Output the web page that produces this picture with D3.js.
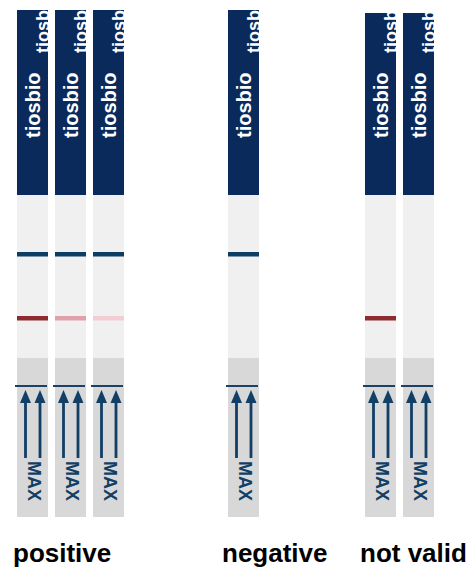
<!DOCTYPE html>
<html>
<head>
<meta charset="utf-8">
<script src="https://cdn.jsdelivr.net/npm/d3@7"></script>
<style>
  body { margin: 0; background: #fff; }
</style>
</head>
<body>
<div id="plot"></div>
<script>
  // test strip results
  const groups = ["positive", "negative", "not valid"];
  const stripGroup = ["positive", "positive", "positive", "negative", "not valid", "not valid"];
  const controlLine = [1, 1, 1, 1, 0, 0];
  const testLine = [1, 0.5, 0.2, 0, 1, 0];
  const brand = "tiosbio";
  const maxLabel = "MAX";

  const w = 470;
  const h = 569;
  const stripW = 31;
  const stripStep = 38;

  const svg = d3.select("div#plot")
      .append("svg")
      .attr("width", w)
      .attr("height", h);

  const groupX = d3.scaleOrdinal()
      .domain(groups)
      .range([17, 228, 365]);

  const groupTop = d3.scaleOrdinal()
      .domain(groups)
      .range([10, 10, 13]);

  const labelX = d3.scaleOrdinal()
      .domain(groups)
      .range([13, 222, 360]);

  const testColor = d3.scaleLinear()
      .domain([0.2, 0.5, 1])
      .range(["#f3cdd4", "#e0a2aa", "#8c2b30"]);

  // zones along the strip
  const y = {navyEnd: 195, control: 254, test: 318, grayStart: 358,
    maxLine: 386, bottom: 517};

  const strips = stripGroup.map((g, i) => ({
    group: g,
    idx: stripGroup.slice(0, i).filter(d => d === g).length,
    control: controlLine[i],
    test: testLine[i],
    id: i
  }));

  const defs = svg.append("defs");
  defs.selectAll("clipPath")
    .data(strips)
    .enter().append("clipPath")
      .attr("id", d => "clip" + d.id)
    .append("rect")
      .attr("x", 0)
      .attr("y", 0)
      .attr("width", stripW)
      .attr("height", d => y.navyEnd - groupTop(d.group));

  const strip = svg.selectAll("g.strip")
    .data(strips)
    .enter().append("g")
      .attr("class", "strip")
      .attr("transform", d => `translate(${groupX(d.group) + d.idx * stripStep}, 0)`);

  // gray bottom part
  strip.append("rect")
      .attr("x", 0)
      .attr("y", y.grayStart)
      .attr("width", stripW)
      .attr("height", y.bottom - y.grayStart)
      .attr("fill", "#d8d8d8");

  // light reading window
  strip.append("rect")
      .attr("x", 0)
      .attr("y", y.navyEnd)
      .attr("width", stripW)
      .attr("height", y.grayStart - y.navyEnd)
      .attr("fill", "#f0f0f0");

  // navy handle
  const head = strip.append("g")
      .attr("transform", d => `translate(0, ${groupTop(d.group)})`);

  head.append("rect")
      .attr("x", 0)
      .attr("y", 0)
      .attr("width", stripW)
      .attr("height", d => y.navyEnd - groupTop(d.group))
      .attr("fill", "#0b2a5c");

  const txt = head.append("g")
      .attr("clip-path", d => `url(#clip${d.id})`);

  txt.append("text")
      .attr("transform", d => `translate(23, ${138 - groupTop(d.group)}) rotate(-90)`)
      .attr("fill", "white")
      .style("font-family", "Arial, 'Liberation Sans', sans-serif")
      .style("font-weight", "bold")
      .style("font-size", "20px")
      .text(brand);

  // second print of the logo, cut by the strip edge
  txt.append("text")
      .attr("transform", d => `translate(${stripW + 1}, ${53 - groupTop(d.group)}) rotate(-90)`)
      .attr("fill", "white")
      .style("font-family", "Arial, 'Liberation Sans', sans-serif")
      .style("font-weight", "bold")
      .style("font-size", "18px")
      .text(brand);

  // control line
  strip.filter(d => d.control)
    .append("rect")
      .attr("x", 0)
      .attr("y", y.control - 2)
      .attr("width", stripW)
      .attr("height", 4.5)
      .attr("fill", "#0e3d63");

  // test line
  strip.filter(d => d.test > 0)
    .append("rect")
      .attr("x", 0)
      .attr("y", y.test - 2)
      .attr("width", stripW)
      .attr("height", 4.5)
      .attr("fill", d => testColor(d.test));

  // max line
  strip.append("rect")
      .attr("x", -2)
      .attr("y", y.maxLine - 1)
      .attr("width", stripW + 1)
      .attr("height", 2)
      .attr("fill", "#1b4266");

  // arrows
  const arrowX = [8.5, 23];
  arrowX.forEach(ax => {
    strip.append("rect")
        .attr("x", ax - 1.4)
        .attr("y", 401)
        .attr("width", 2.8)
        .attr("height", 57)
        .attr("fill", "#123f66");
    strip.append("path")
        .attr("d", d3.line()([[ax, 390], [ax + 5.5, 403], [ax - 5.5, 403]]) + "Z")
        .attr("fill", "#123f66");
  });

  strip.append("text")
      .attr("transform", "translate(11, 461) rotate(90)")
      .attr("fill", "#123f66")
      .style("font-family", "Arial, 'Liberation Sans', sans-serif")
      .style("font-weight", "bold")
      .style("font-size", "18px")
      .text(maxLabel);

  // group labels
  svg.selectAll("text.label")
    .data(groups)
    .enter().append("text")
      .attr("class", "label")
      .attr("x", d => labelX(d))
      .attr("y", 562)
      .attr("fill", "#000")
      .style("font-family", "Arial, 'Liberation Sans', sans-serif")
      .style("font-weight", "bold")
      .style("font-size", "26px")
      .text(d => d);
</script>
</body>
</html>
